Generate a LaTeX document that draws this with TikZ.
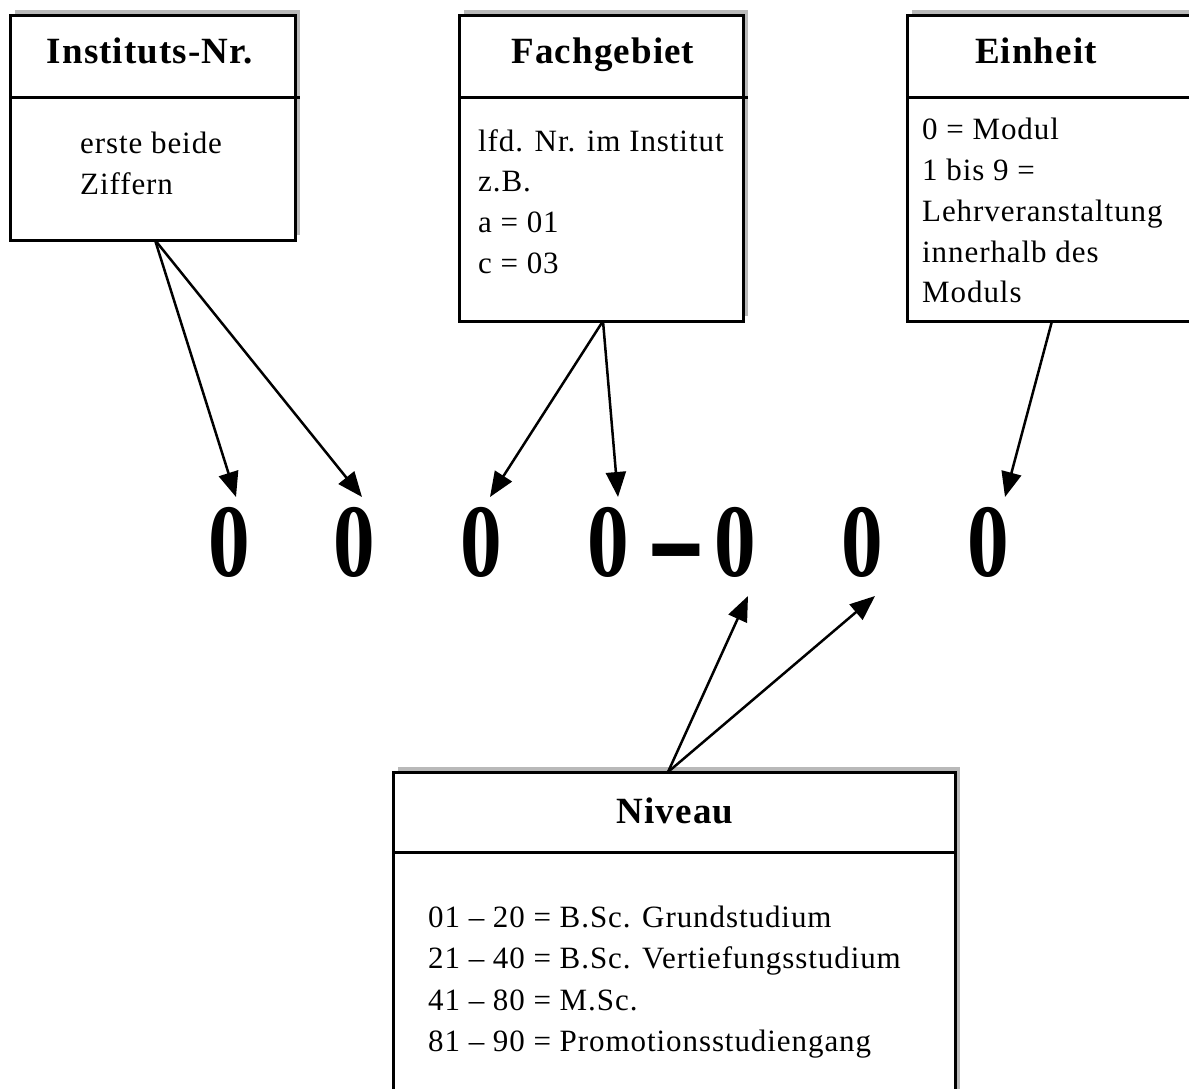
\documentclass[tikz,border=0pt]{standalone}
\usepackage{fontspec}
\setmainfont{Liberation Serif}
\newfontfamily\bodyfont[LetterSpace=3]{Liberation Serif}
\newfontfamily\headfont[LetterSpace=3]{Liberation Serif}
\usetikzlibrary{arrows.meta,shadows}
\begin{document}
\begin{tikzpicture}[x=1pt,y=-1pt,
  box/.style={draw,line width=3pt,fill=white,rectangle,inner sep=0pt,outer sep=0pt,anchor=north west,
    drop shadow={shadow xshift=5pt,shadow yshift=5pt,fill=gray!55,opacity=1}},
  head/.style={font=\headfont\bfseries\fontsize{37}{40}\selectfont,inner sep=0pt,anchor=base},
  body/.style={font=\bodyfont\fontsize{31}{41}\selectfont,inner sep=0pt,anchor=base west},
  digit/.style={font=\bfseries\fontsize{104}{110}\selectfont,inner sep=0pt,anchor=base,xscale=0.8},
  sep/.style={line width=3pt},
  arr/.style={line width=2.5pt,-{Triangle[length=25pt,width=20pt]}}]
\useasboundingbox (0,0) rectangle (1189,1088);
\fill[white] (0,0) rectangle (1189,1088);

% boxes
\node[box,minimum width=285pt,minimum height=225pt] (inst) at (10,15) {};
\node[box,minimum width=284pt,minimum height=306pt] (fach) at (459,15) {};
\node[box,minimum width=300pt,minimum height=306pt] (einh) at (907,15) {};
\node[box,minimum width=562pt,minimum height=340pt] (niv) at (393,772) {};

% header separators
\draw[sep] (inst.west |- 0,97) -- (300,97);
\draw[sep] (fach.west |- 0,97) -- (748,97);
\draw[sep] (einh.west |- 0,97) -- (1189,97);
\draw[sep] (niv.west |- 0,852) -- (955,852);

% headers
\node[head] (hinst) at (150,63) {Instituts-Nr.};
\node[head] (hfach) at (603,63) {Fachgebiet};
\node[head] (heinh) at (1036,63) {Einheit};
\node[head] (hniv) at (675,823) {Niveau};

% bodies
\node[body] (i1) at (80,153) {erste beide};
\node[body] (i2) at (80,194) {Ziffern};

\node[body] (f1) at (478,151) {lfd. Nr. im Institut};
\node[body] (f2) at (478,191) {z.B.};
\node[body] (f3) at (478,232) {a = 01};
\node[body] (f4) at (478,273) {c = 03};

\node[body] (e1) at (922,139) {0 = Modul};
\node[body] (e2) at (922,180) {1 bis 9 =};
\node[body] (e3) at (922,221) {Lehrveranstaltung};
\node[body] (e4) at (922,262) {innerhalb des};
\node[body] (e5) at (922,302) {Moduls};

\node[body] (n1) at (428,927) {01 – 20 = B.Sc. Grundstudium};
\node[body] (n2) at (428,968) {21 – 40 = B.Sc. Vertiefungsstudium};
\node[body] (n3) at (428,1010) {41 – 80 = M.Sc.};
\node[body] (n4) at (428,1051) {81 – 90 = Promotionsstudiengang};

% digits
\node[digit] (z1) at (229,576) {0};
\node[digit] (z2) at (354,576) {0};
\node[digit] (z3) at (481,576) {0};
\node[digit] (z4) at (608,576) {0};
\node[digit,xscale=1.1,yscale=1.7] (dash) at (676,591) {–};
\node[digit] (z5) at (735,576) {0};
\node[digit] (z6) at (862,576) {0};
\node[digit] (z7) at (988,576) {0};

% arrow end points
\coordinate (t1) at (236,497);
\coordinate (t2) at (362,497);
\coordinate (t3) at (490,497);
\coordinate (t4) at (618,497);
\coordinate (t7) at (1005,497);
\coordinate (t5) at (748,596);
\coordinate (t6) at (875,596);
\coordinate (es) at (1052,321);
\coordinate (ns) at (668,772);
\coordinate (is) at (155,240);
\coordinate (fs) at (603,321);

\draw[arr] (is) -- (t1);
\draw[arr] (is) -- (t2);
\draw[arr] (fs) -- (t3);
\draw[arr] (fs) -- (t4);
\draw[arr] (es) -- (t7);
\draw[arr] (ns) -- (t5);
\draw[arr] (ns) -- (t6);
\end{tikzpicture}
\end{document}
